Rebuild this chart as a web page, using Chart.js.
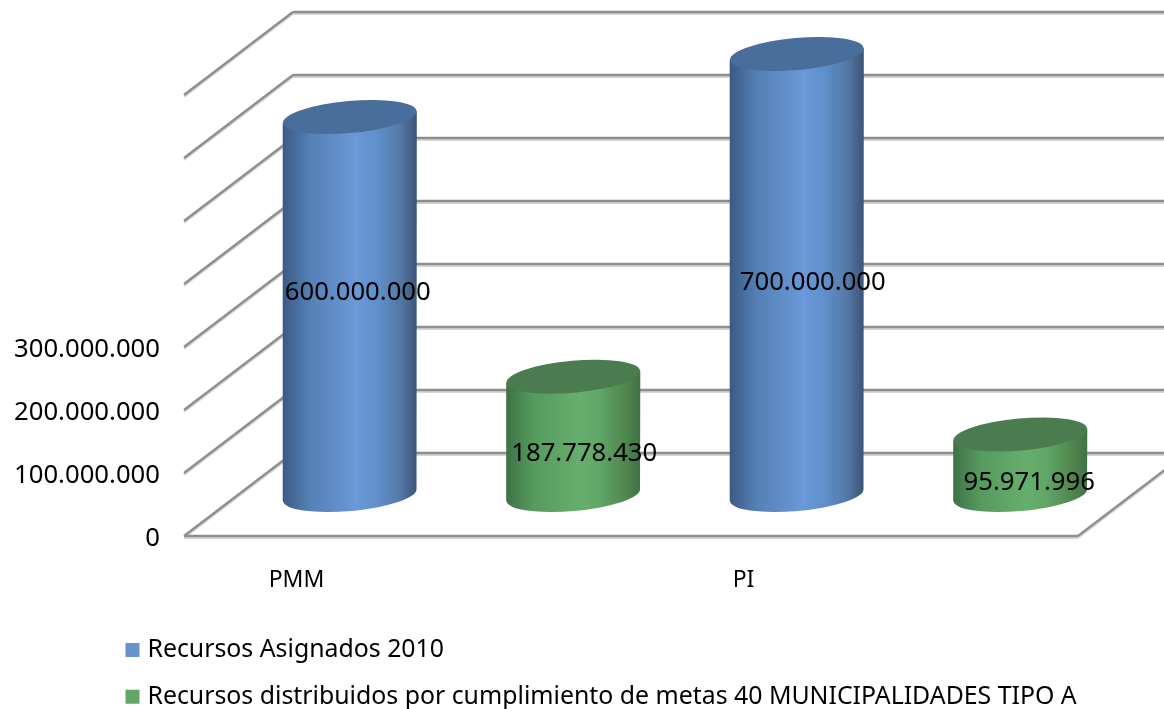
<!DOCTYPE html>
<html><head><meta charset="utf-8">
<style>html,body{margin:0;padding:0;background:#fff}canvas{display:block}</style>
<script src="https://cdn.jsdelivr.net/npm/chart.js@4"></script>
</head><body>
<canvas id="c" width="1164" height="709"></canvas>
<script>
const categories = ['PMM', 'PI'];
const seriesNames = ['Recursos Asignados 2010', 'Recursos distribuidos por cumplimiento de metas 40 MUNICIPALIDADES TIPO A'];
const asignados = [600000000, 700000000];
const distribuidos = [187778430, 95971996];
const yTickLabels = ['0', '100.000.000', '200.000.000', '300.000.000'];
const valueLabels = [['600.000.000', '700.000.000'], ['187.778.430', '95.971.996']];

const FONT = '"Noto Sans"';
const DEPTH_X = 109, DEPTH_Y = 83, BAR_X = 54, BAR_Y = 41;
const LABEL_OFF = [[[8, -13], [16, 8.5]], [[11, 17.5], [9, 18]]];
const PAL = [
  {top:'#4a6e9b', stops:['#3b5a84','#5480b5','#6b98d8','#6090cc','#557aa8','#3a5578']},
  {top:'#4a7c50', stops:['#3f7246','#569a5e','#66ae6e','#5fa567','#52894f','#3f7246']}
];

function line(ctx, x1, y1, x2, y2, color, w) {
  ctx.strokeStyle = color; ctx.lineWidth = w;
  ctx.beginPath(); ctx.moveTo(x1, y1); ctx.lineTo(x2, y2); ctx.stroke();
}
function grid(ctx, x1, y1, x2, y2) {
  line(ctx, x1, y1 + 2, x2, y2 + 2, '#d6d6d6', 2);
  line(ctx, x1, y1, x2, y2, '#8e8e8e', 2.4);
}
function cylinder(ctx, el, pal) {
  const cx = el.x + BAR_X, w = el.width, rx = w / 2;
  const top = el.y - BAR_Y, bot = el.base - BAR_Y;
  const ry = 16, tilt = -0.09, dy = Math.sin(tilt) * rx;
  const g = ctx.createLinearGradient(cx - rx, 0, cx + rx, 0);
  [0, .2, .55, .7, .87, 1].forEach((s, i) => g.addColorStop(s, pal.stops[i]));
  ctx.fillStyle = g;
  ctx.beginPath();
  ctx.moveTo(cx - rx, top - dy);
  ctx.lineTo(cx - rx, bot - dy);
  ctx.ellipse(cx, bot, rx, ry, tilt, Math.PI, 0, true);
  ctx.lineTo(cx + rx, top + dy);
  ctx.closePath();
  ctx.fill();
  ctx.fillStyle = pal.top;
  ctx.beginPath();
  ctx.ellipse(cx, top, rx, ry, tilt, 0, Math.PI * 2);
  ctx.fill();
}

const scene3d = {
  id: 'scene3d',
  beforeDraw(chart) {
    const lg = chart.legend;
    lg.left = 108; lg.top = 615.5; lg.right = 1164;
  },
  beforeDatasetsDraw(chart) {
    const ctx = chart.ctx, y = chart.scales.y, a = chart.chartArea;
    ctx.save();
    y.ticks.forEach(t => {
      const py = y.getPixelForValue(t.value);
      grid(ctx, a.left, py, a.left + DEPTH_X, py - DEPTH_Y);
      grid(ctx, a.left + DEPTH_X, py - DEPTH_Y, chart.width, py - DEPTH_Y);
    });
    grid(ctx, a.left, a.bottom, a.right, a.bottom);
    grid(ctx, a.right, a.bottom, a.right + DEPTH_X, a.bottom - DEPTH_Y);
    chart.data.datasets.forEach((ds, i) => {
      chart.getDatasetMeta(i).data.forEach(el => cylinder(ctx, el, PAL[i]));
    });
    ctx.fillStyle = '#000';
    ctx.font = '25.7px ' + FONT;
    ctx.textAlign = 'center'; ctx.textBaseline = 'middle';
    chart.data.datasets.forEach((ds, i) => {
      chart.getDatasetMeta(i).data.forEach((el, j) => {
        const o = LABEL_OFF[i][j];
        const midY = (el.y + el.base) / 2 - BAR_Y;
        ctx.fillText(valueLabels[i][j], el.x + BAR_X + o[0], midY + o[1]);
      });
    });
    ctx.restore();
    return false;
  }
};

new Chart(document.getElementById('c'), {
  type: 'bar',
  data: {
    labels: categories,
    datasets: [
      {label: seriesNames[0], data: asignados, backgroundColor: '#6792ce'},
      {label: seriesNames[1], data: distribuidos, backgroundColor: '#62a765'}
    ]
  },
  options: {
    responsive: false,
    animation: false,
    devicePixelRatio: 1,
    layout: {padding: {left: 0, top: 95, right: 86, bottom: 0}},
    datasets: {bar: {categoryPercentage: 1, barPercentage: 0.6}},
    plugins: {
      tooltip: {enabled: false},
      title: {display: false},
      legend: {
        position: 'bottom', align: 'start',
        labels: {
          usePointStyle: true, pointStyle: 'rect', boxWidth: 5, boxHeight: 14,
          padding: 22, color: '#000', font: {family: FONT, size: 24.85}
        }
      }
    },
    scales: {
      x: {
        grid: {display: false}, border: {display: false},
        afterFit(s) { s.height = 709 - 536 - s.chart.legend.height; },
        ticks: {labelOffset: -111, padding: 23, color: '#000', font: {family: FONT, size: 23}, maxRotation: 0}
      },
      y: {
        min: 0, max: 700000000,
        grid: {display: false}, border: {display: false},
        afterFit(s) { s.width = 184; },
        ticks: {
          stepSize: 100000000, padding: 16, labelOffset: 3, color: '#000', autoSkip: false,
          font: {family: FONT, size: 25.7},
          callback(v, i) { return yTickLabels[i] || ''; }
        }
      }
    }
  },
  plugins: [scene3d]
});
</script>
</body></html>
